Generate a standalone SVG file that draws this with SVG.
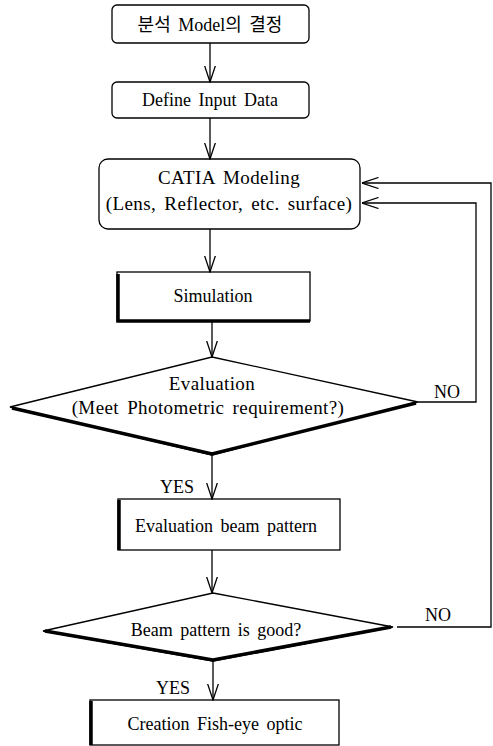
<svg xmlns="http://www.w3.org/2000/svg" width="493" height="746" viewBox="0 0 493 746">
  <defs>
    <!-- open V arrowhead, drawn pointing along +x -->
    <marker id="vee" viewBox="0 0 17 12" markerWidth="17" markerHeight="12" refX="16.5" refY="6" orient="auto" markerUnits="userSpaceOnUse">
      <path d="M0,0.5 L16.5,6 L0,11.5" fill="none" stroke="#000" stroke-width="1.3"/>
    </marker>
  </defs>
  <style>
    .box { fill: #fff; stroke: #000; stroke-width: 1.3; }
    .heavy { fill: none; stroke: #000; stroke-width: 3.5; }
    .line { fill: none; stroke: #000; stroke-width: 1.3; }
    .lbl { font-family: "Liberation Serif", "Noto Sans CJK KR", serif; font-size: 18px; fill: #000; text-anchor: middle; word-spacing: 3px; }
    .wide { font-size: 19px; letter-spacing: 0.4px; }
    .tag { font-family: "Liberation Serif", serif; font-size: 18px; fill: #000; }
  </style>
  <rect width="493" height="746" fill="#fff"/>

  <g id="n-model">
    <rect class="box" x="112" y="5" width="197" height="38" rx="5"/>
    <text class="lbl" x="210" y="31">분석 Model의 결정</text>
  </g>

  <g id="n-input">
    <rect class="box" x="112" y="82" width="197" height="36" rx="5"/>
    <text class="lbl" x="210" y="106">Define Input Data</text>
  </g>

  <g id="n-catia">
    <rect class="box" x="99" y="159" width="261" height="70" rx="9"/>
    <text class="lbl wide" x="229" y="184">CATIA Modeling</text>
    <text class="lbl wide" x="229" y="210">(Lens, Reflector, etc. surface)</text>
  </g>

  <g id="n-sim">
    <rect class="box" x="117" y="272" width="193" height="49"/>
    <path class="heavy" d="M118,274 V321 H310"/>
    <text class="lbl" x="213" y="302">Simulation</text>
  </g>

  <g id="n-eval">
    <polygon class="box" points="212,357 418,402 212,455 10,407"/>
    <path class="heavy" d="M12,408 L212,454 L416,403"/>
    <text class="lbl wide" x="212" y="390">Evaluation</text>
    <text class="lbl wide" x="208" y="414">(Meet Photometric requirement?)</text>
  </g>

  <g id="n-beam">
    <rect class="box" x="118" y="499" width="222" height="51"/>
    <path class="heavy" d="M119,500 V550"/>
    <text class="lbl" x="226" y="532">Evaluation beam pattern</text>
  </g>

  <g id="n-good">
    <polygon class="box" points="213,593 393,627 213,661 43,631"/>
    <path class="heavy" d="M45,631 L213,660 L391,627"/>
    <text class="lbl" x="216" y="636">Beam pattern is good?</text>
  </g>

  <g id="n-fisheye">
    <rect class="box" x="90" y="700" width="249" height="45"/>
    <path class="heavy" d="M91,701 V745"/>
    <text class="lbl" x="215" y="730">Creation Fish-eye optic</text>
  </g>

  <!-- connectors -->
  <g id="connectors">
    <line class="line" x1="210" y1="43" x2="210" y2="82" marker-end="url(#vee)"/>
    <line class="line" x1="210" y1="118" x2="210" y2="159" marker-end="url(#vee)"/>
    <line class="line" x1="210" y1="229" x2="210" y2="272" marker-end="url(#vee)"/>
    <line class="line" x1="212" y1="321" x2="212" y2="357" marker-end="url(#vee)"/>
    <line class="line" x1="212" y1="455" x2="212" y2="499" marker-end="url(#vee)"/>
    <line class="line" x1="212" y1="550" x2="212" y2="593" marker-end="url(#vee)"/>
    <line class="line" x1="213" y1="661" x2="213" y2="700" marker-end="url(#vee)"/>
    <!-- NO loop from Evaluation -->
    <polyline class="line" points="418,402 476,402 476,203 362,203" marker-end="url(#vee)"/>
    <!-- NO loop from beam pattern check -->
    <polyline class="line" points="397,627 491,627 491,183 362,183" marker-end="url(#vee)"/>
    <text class="tag" x="434" y="398">NO</text>
    <text class="tag" x="425" y="621">NO</text>
    <text class="tag" x="160" y="493">YES</text>
    <text class="tag" x="156" y="694">YES</text>
  </g>
</svg>
